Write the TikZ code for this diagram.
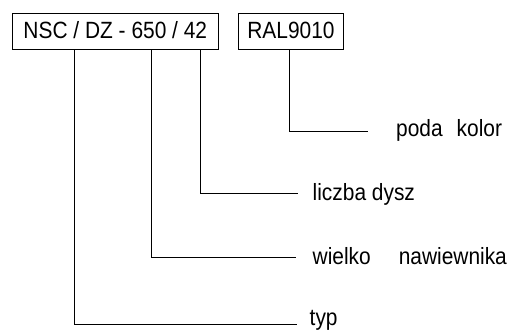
\documentclass[tikz,border=0pt]{standalone}
\usepackage{fontspec}
\setmainfont[FakeStretch=0.89]{Liberation Sans}
\begin{document}
\begin{tikzpicture}[x=1pt,y=-1pt,
  codebox/.style={draw,line width=0.7pt,inner sep=0pt,text height=25pt,text depth=11pt,font=\fontsize{23.5}{23.5}\selectfont},
  lbl/.style={anchor=base west,inner sep=0pt,font=\fontsize{23.5}{23.5}\selectfont},
  lead/.style={line width=0.8pt}]
\useasboundingbox (0,0) rectangle (515,331);
\node[codebox,minimum width=206] (b1) at (115.3,31.3) {NSC / DZ - 650 / 42};
\node[codebox,minimum width=104.6] (b2) at (291,31.3) {RAL9010};
\coordinate (e1) at (368,131.7);
\coordinate (e2) at (298,193);
\coordinate (e3) at (296,257);
\coordinate (e4) at (297,324);
\node[lbl] (l1) at (396,136.7) {poda\hspace{14pt}kolor};
\node[lbl] (l2) at (312.5,201) {liczba dysz};
\node[lbl] (l3) at (312.5,265) {wielko\hspace{28pt}nawiewnika};
\node[lbl] (l4) at (309.5,325.7) {typ};
\draw[lead] (b2.south -| 289.3,0) |- (e1);
\draw[lead] (b1.south -| 200,0) |- (e2);
\draw[lead] (b1.south -| 151,0) |- (e3);
\draw[lead] (b1.south -| 74,0) |- (e4);
\end{tikzpicture}
\end{document}
